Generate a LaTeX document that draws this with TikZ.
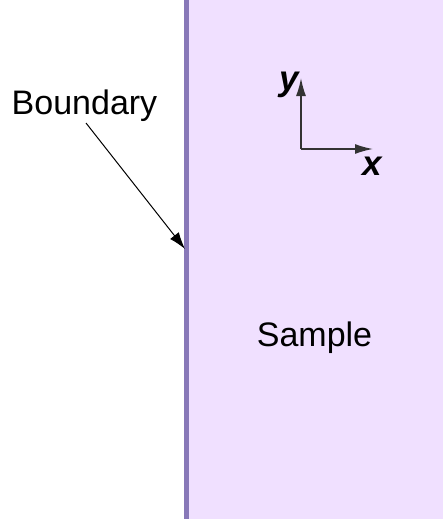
\documentclass[tikz,border=0pt]{standalone}
\usepackage{fontspec}
\setmainfont{Liberation Sans}
\usetikzlibrary{arrows.meta}
\definecolor{samplefill}{HTML}{F0E0FF}
\definecolor{boundcol}{HTML}{8878B8}
\definecolor{axiscol}{HTML}{333333}
\begin{document}
\begin{tikzpicture}[x=1pt,y=-1pt,
  lbl/.style={inner sep=0pt,anchor=base,font=\fontsize{34}{38}\selectfont},
  axlbl/.style={inner sep=0pt,anchor=base,font=\fontsize{35}{38}\selectfont\bfseries\itshape},
  axis/.style={draw=axiscol,line width=1.6pt,-{Latex[length=18pt,width=10pt]}}]
\useasboundingbox (0,0) rectangle (443,519);
\fill[samplefill] (189,0) rectangle (443,519);
\fill[boundcol] (184,0) rectangle (189,519);
\coordinate (bnd) at (185,249);
\node[lbl] (boundary) at (84.5,114) {Boundary};
\node[lbl] (sample) at (314.5,346) {Sample};
\coordinate (o) at (301,149);
\coordinate (ytip) at (301,78);
\coordinate (xtip) at (373,149);
\draw[axis] (o) -- (ytip);
\draw[axis] (o) -- (xtip);
\node[axlbl] (ylab) at (289,90) {y};
\node[axlbl] (xlab) at (372,175) {x};
\draw[black,line width=1pt,-{Latex[length=17pt,width=11pt]}] (86,123) -- (bnd);
\end{tikzpicture}
\end{document}
